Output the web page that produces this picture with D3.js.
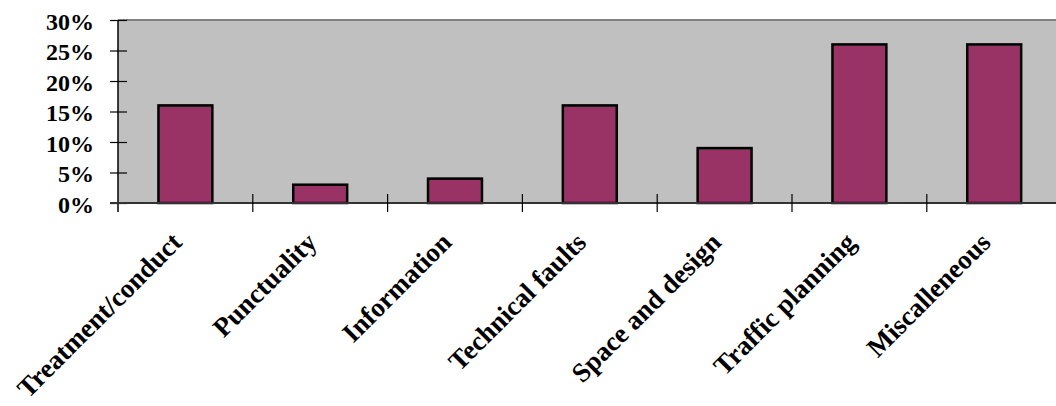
<!DOCTYPE html>
<html>
<head>
<meta charset="utf-8">
<script src="https://cdn.jsdelivr.net/npm/d3@7"></script>
<style>
  html, body { margin: 0; padding: 0; background: #ffffff; }
  svg { display: block; }
  text { font-family: "Liberation Serif", "Times New Roman", serif; font-weight: bold; fill: #000; }
</style>
</head>
<body>
<svg id="chart" width="1056" height="406"></svg>
<script>
// Share of complaints by category
const categories = ["Treatment/conduct", "Punctuality", "Information", "Technical faults",
                    "Space and design", "Traffic planning", "Miscalleneous"];
const shares = [0.16, 0.03, 0.04, 0.16, 0.09, 0.26, 0.26];
const yTicks = [0, 0.05, 0.10, 0.15, 0.20, 0.25, 0.30];

const W = 1056, H = 406;
const plot = { left: 118, top: 20, bottom: 203, step: 134.8 };
plot.right = plot.left + plot.step * categories.length;

const svg = d3.select("#chart");

const x = d3.scaleBand().domain(categories).range([plot.left, plot.right]).padding(0);
const y = d3.scaleLinear().domain([0, 0.30]).range([plot.bottom, plot.top]);

// plot area background
svg.append("rect")
  .attr("x", plot.left).attr("y", plot.top)
  .attr("width", plot.right - plot.left).attr("height", plot.bottom - plot.top)
  .attr("fill", "#c0c0c0");

// top and right frame
svg.append("path")
  .attr("d", `M${plot.left},${plot.top}H${plot.right}V${plot.bottom}`)
  .attr("fill", "none").attr("stroke", "#808080").attr("stroke-width", 2);

// bars
const barFrac = 0.4;
svg.append("g").selectAll("rect")
  .data(categories)
  .join("rect")
  .attr("x", (d) => x(d) + x.bandwidth() * (1 - barFrac) / 2)
  .attr("width", x.bandwidth() * barFrac)
  .attr("y", (d, i) => y(shares[i]))
  .attr("height", (d, i) => y(0) - y(shares[i]))
  .attr("fill", "#993366")
  .attr("stroke", "#000")
  .attr("stroke-width", 2.5);

// y axis: ticks cross the axis line
const yAxis = svg.append("g")
  .attr("transform", `translate(${plot.left},0)`)
  .call(d3.axisLeft(y).tickValues(yTicks).tickFormat(d3.format(".0%")).tickSize(8).tickPadding(16));
yAxis.select(".domain").remove();
yAxis.selectAll(".tick line").attr("x1", 9).attr("stroke", "#000").attr("stroke-width", 1.2);
yAxis.selectAll(".tick text")
  .attr("dy", "0.38em")
  .style("font-size", "24px")
  .style("font-family", "'Liberation Serif', 'Times New Roman', serif")
  .style("font-weight", "bold");
svg.append("line")
  .attr("x1", plot.left).attr("x2", plot.left)
  .attr("y1", plot.top).attr("y2", plot.bottom + 9)
  .attr("stroke", "#000").attr("stroke-width", 1.5);

// x axis line
svg.append("line")
  .attr("x1", plot.left - 8).attr("x2", plot.right)
  .attr("y1", plot.bottom).attr("y2", plot.bottom)
  .attr("stroke", "#333").attr("stroke-width", 2);

// category boundary ticks, crossing the x axis
const boundaries = d3.range(1, categories.length).map((i) => plot.left + x.step() * i);
svg.append("g").selectAll("line")
  .data(boundaries)
  .join("line")
  .attr("x1", (d) => d).attr("x2", (d) => d)
  .attr("y1", plot.bottom - 9).attr("y2", plot.bottom + 9)
  .attr("stroke", "#000").attr("stroke-width", 1.2);

// rotated category labels
svg.append("g").selectAll("text")
  .data(categories)
  .join("text")
  .attr("transform", (d) => `translate(${x(d) + x.bandwidth() / 2 - 2},244) rotate(-45)`)
  .attr("text-anchor", "end")
  .style("font-size", "27px")
  .text((d) => d);
</script>
</body>
</html>
